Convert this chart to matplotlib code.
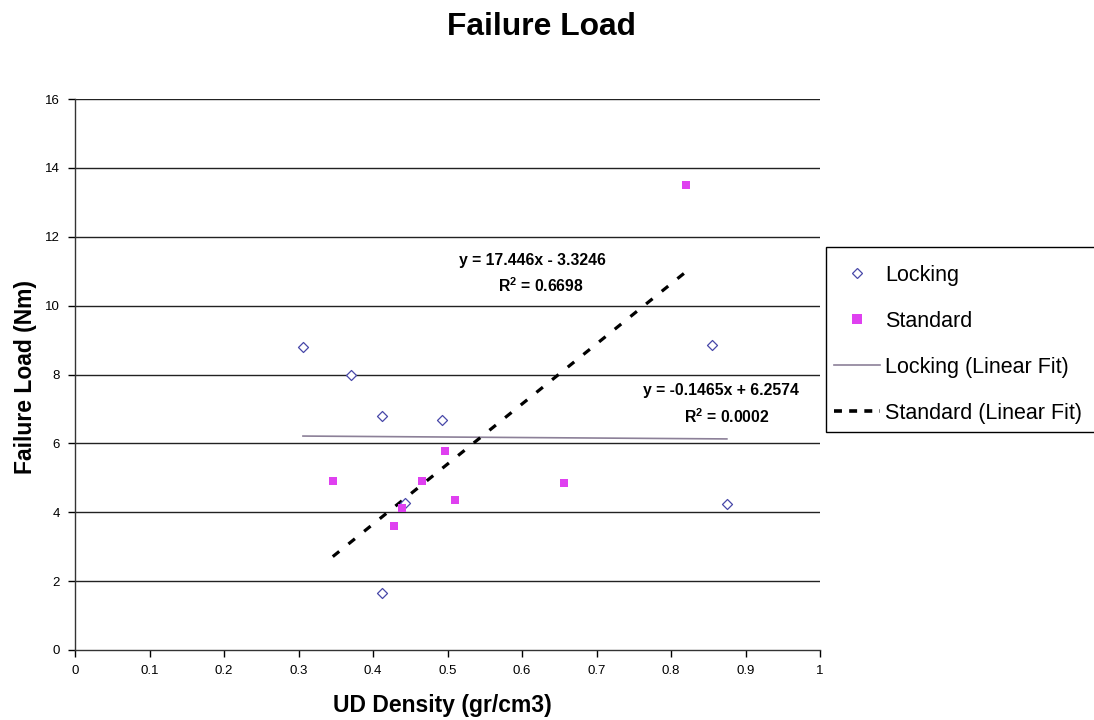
import matplotlib
matplotlib.use("Agg")
import matplotlib.pyplot as plt
from matplotlib.lines import Line2D
from matplotlib.patches import Rectangle
import numpy as np

plt.rcParams['font.family'] = ['Liberation Sans', 'DejaVu Sans']
plt.rcParams['mathtext.fontset'] = 'custom'
plt.rcParams['mathtext.bf'] = 'Liberation Sans:bold'
plt.rcParams['mathtext.rm'] = 'Liberation Sans'

# Data
locking_x = [0.306, 0.370, 0.412, 0.412, 0.443, 0.493, 0.855, 0.875]
locking_y = [8.80, 7.98, 6.79, 1.66, 4.27, 6.68, 8.86, 4.24]
standard_x = [0.346, 0.428, 0.439, 0.466, 0.496, 0.510, 0.656, 0.820]
standard_y = [4.90, 3.60, 4.12, 4.90, 5.78, 4.35, 4.85, 13.50]

locking_fit = (-0.1465, 6.2574)
standard_fit = (17.446, -3.3246)

x_ticks = [0, 0.1, 0.2, 0.3, 0.4, 0.5, 0.6, 0.7, 0.8, 0.9, 1]
x_tick_labels = ['0', '0.1', '0.2', '0.3', '0.4', '0.5', '0.6', '0.7', '0.8', '0.9', '1']
y_ticks = [0, 2, 4, 6, 8, 10, 12, 14, 16]

labels = ['Locking', 'Standard', 'Locking (Linear Fit)', 'Standard (Linear Fit)']

LOCK_COLOR = '#4848a8'
STD_COLOR = '#DF40F0'
LFIT_COLOR = '#8c8098'

W, H = 1094, 720
fig = plt.figure(figsize=(W / 100, H / 100), dpi=100)
ax = fig.add_axes([75 / W, 1 - 650 / H, (820 - 75) / W, (650 - 99) / H])

ax.set_xlim(0, 1)
ax.set_ylim(0, 16)
ax.set_xticks(x_ticks)
ax.set_xticklabels(x_tick_labels)
ax.set_yticks(y_ticks)
ax.tick_params(axis='both', direction='out', length=5, width=1, labelsize=9.5,
               colors='black', pad=6)
for s in ['top', 'right']:
    ax.spines[s].set_visible(False)
for s in ['left', 'bottom']:
    ax.spines[s].set_color('#333333')
    ax.spines[s].set_linewidth(1)

for yv in y_ticks[1:]:
    ax.axhline(yv, color='#222222', lw=1, zorder=0.5)

# Fit lines
lx = np.array([min(locking_x), max(locking_x)])
ax.plot(lx, locking_fit[0] * lx + locking_fit[1], color=LFIT_COLOR, lw=1.2, zorder=2)
sx = np.array([min(standard_x), max(standard_x)])
ax.plot(sx, standard_fit[0] * sx + standard_fit[1], color='black', lw=2.3,
        dashes=(2.6, 3.7), zorder=3)

ax.scatter(locking_x, locking_y, marker='D', s=26, facecolors='white',
           edgecolors=LOCK_COLOR, linewidths=0.9, zorder=4)
ax.scatter(standard_x, standard_y, marker='s', s=40, color=STD_COLOR,
           linewidths=0, zorder=4)

# Equations
eq_kw = dict(ha='center', va='center', fontsize=11.3, fontweight='bold')
fig.text(532 / W, 1 - 260 / H, 'y = 17.446x - 3.3246', **eq_kw)
fig.text(541 / W, 1 - 286 / H, r'R$^\mathbf{2}$ = 0.6698', **eq_kw)
fig.text(721 / W, 1 - 391 / H, 'y = -0.1465x + 6.2574', **eq_kw)
fig.text(727 / W, 1 - 417 / H, r'R$^\mathbf{2}$ = 0.0002', **eq_kw)

# Titles
fig.text(541 / W, 1 - 35 / H, 'Failure Load', ha='center', va='baseline',
         fontsize=22.9, fontweight='bold')
fig.text(442 / W, 1 - 712 / H, 'UD Density (gr/cm3)', ha='center', va='baseline',
         fontsize=16.5, fontweight='bold')
fig.text(32 / W, 1 - 377 / H, 'Failure Load (Nm)', ha='center', va='baseline',
         fontsize=16.5, fontweight='bold', rotation=90, rotation_mode='anchor')

# Legend (entries) + frame
handles = [
    Line2D([], [], marker='D', ls='none', markersize=4.8, markerfacecolor='white',
           markeredgecolor=LOCK_COLOR, markeredgewidth=0.9),
    Line2D([], [], marker='s', ls='none', markersize=6.5, markerfacecolor=STD_COLOR,
           markeredgewidth=0),
    Line2D([], [], color=LFIT_COLOR, lw=1.2),
    Line2D([], [], color='black', lw=2.6, dashes=(2.2, 2.0)),
]
leg = fig.legend(handles, labels, loc='upper left',
                 bbox_to_anchor=(826 / W, 1 - 257 / H), fontsize=15.5,
                 frameon=False, handlelength=2.14, handletextpad=0.23,
                 labelspacing=1.155, borderpad=0.37, borderaxespad=0)
fig.add_artist(Rectangle((826 / W, 1 - 432 / H), (1110 - 826) / W, (432 - 247) / H,
                         transform=fig.transFigure, facecolor='white',
                         edgecolor='black', lw=1, zorder=-1, clip_on=False))

fig.savefig('out.png', dpi=100)
